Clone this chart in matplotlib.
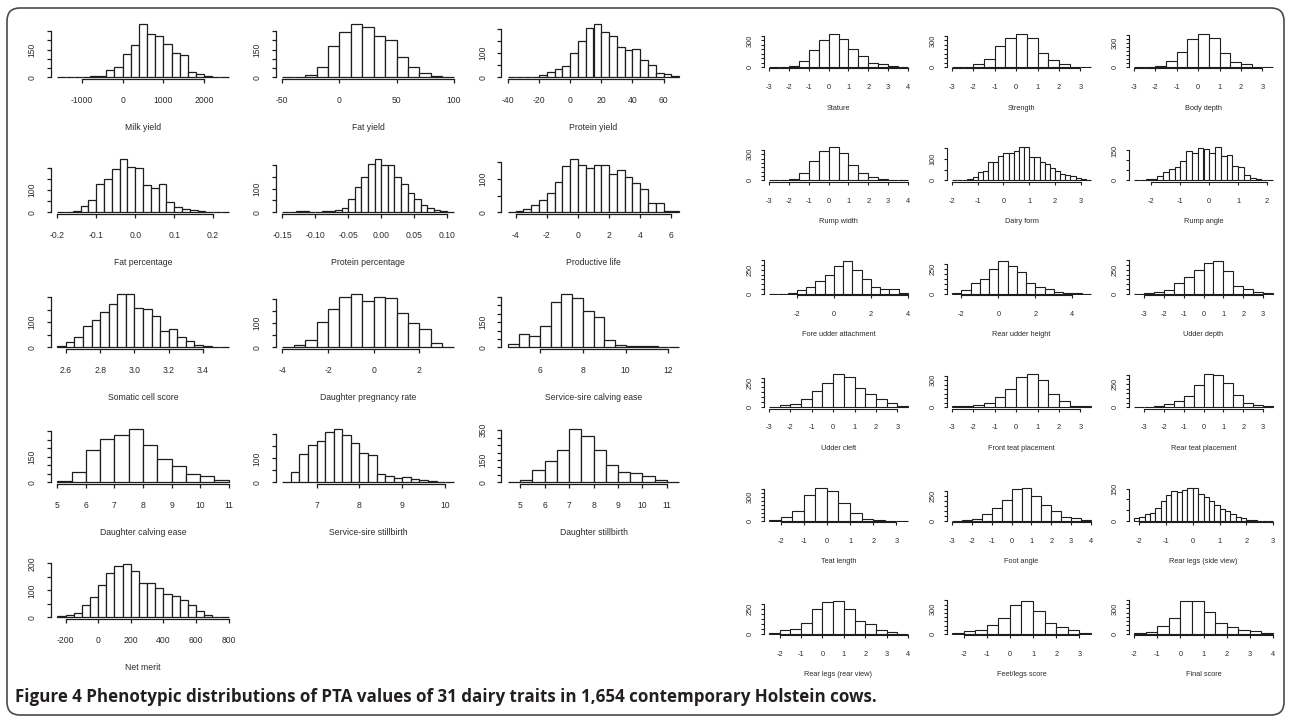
import numpy as np
import matplotlib
matplotlib.use("Agg")
import matplotlib.pyplot as plt
from matplotlib.patches import FancyBboxPatch
from matplotlib.transforms import IdentityTransform

# ---------------- data (bin counts) ----------------
# left block (production / health traits)
milk_yield = [0, 0, 0, 3, 8, 8, 38, 56, 128, 175, 288, 238, 227, 180, 131, 119, 31, 16, 5, 0, 0]
fat_yield = [0, 0, 12, 55, 171, 242, 286, 269, 223, 200, 109, 55, 23, 9, 0]
protein_yield = [0, 0, 0, 3, 11, 21, 33, 46, 100, 150, 204, 219, 186, 172, 125, 114, 117, 71, 50, 18, 12, 4]
fat_percentage = [0, 0, 4, 29, 54, 126, 149, 194, 238, 203, 200, 122, 107, 126, 48, 25, 15, 10, 4, 0, 0, 0]
protein_percentage = [0, 0, 4, 4, 0, 0, 4, 4, 9, 18, 58, 109, 149, 204, 224, 200, 200, 149, 118, 82, 55, 31, 18, 9, 4, 2]
productive_life = [0, 3, 11, 21, 37, 59, 91, 139, 159, 142, 134, 143, 142, 116, 126, 105, 88, 69, 29, 29, 5, 5]
somatic_cell_score = [7, 21, 42, 86, 107, 142, 171, 211, 211, 158, 153, 125, 65, 72, 42, 26, 10, 6, 0, 0]
daughter_pregnancy_rate = [0, 10, 31, 105, 156, 208, 218, 189, 208, 201, 140, 99, 74, 17, 0]
service_sire_calving_ease = [20, 82, 67, 126, 272, 316, 294, 219, 180, 45, 12, 8, 8, 5, 0, 0]
daughter_calving_ease = [6, 60, 189, 252, 278, 312, 219, 139, 95, 50, 40, 14]
service_sire_stillbirth = [3, 42, 117, 155, 173, 211, 221, 197, 162, 122, 115, 35, 28, 17, 21, 14, 10, 4, 3, 3]
daughter_stillbirth = [5, 18, 83, 143, 218, 356, 310, 218, 115, 69, 60, 41, 14, 5]
net_merit = [4, 10, 17, 45, 75, 121, 165, 190, 196, 171, 126, 126, 107, 88, 77, 63, 45, 22, 8, 0, 0]

left_titles = ["Milk yield", "Fat yield", "Protein yield",
               "Fat percentage", "Protein percentage", "Productive life",
               "Somatic cell score", "Daughter pregnancy rate", "Service-sire calving ease",
               "Daughter calving ease", "Service-sire stillbirth", "Daughter stillbirth",
               "Net merit"]
left_counts = [milk_yield, fat_yield, protein_yield, fat_percentage, protein_percentage,
               productive_life, somatic_cell_score, daughter_pregnancy_rate,
               service_sire_calving_ease, daughter_calving_ease, service_sire_stillbirth,
               daughter_stillbirth, net_merit]
left_bin_start = [-1600, -50, -40, -0.20, -0.15, -4.5, 2.55, -4, 4.5, 5, 6.2, 4.5, -250]
left_bin_width = [200, 10, 5, 0.02, 0.01, 0.5, 0.05, 0.5, 0.5, 0.5, 0.2, 0.5, 50]
left_xticks = [[-1000, 0, 1000, 2000], [-50, 0, 50, 100], [-40, -20, 0, 20, 40, 60],
               [-0.2, -0.1, 0.0, 0.1, 0.2], [-0.15, -0.10, -0.05, 0.00, 0.05, 0.10],
               [-4, -2, 0, 2, 4, 6], [2.6, 2.8, 3.0, 3.2, 3.4], [-4, -2, 0, 2],
               [6, 8, 10, 12], [5, 6, 7, 8, 9, 10, 11], [7, 8, 9, 10],
               [5, 6, 7, 8, 9, 10, 11], [-200, 0, 200, 400, 600, 800]]
left_xfmt = ["{:g}", "{:g}", "{:g}", "{:.1f}", "{:.2f}", "{:g}", "{:.1f}", "{:g}",
             "{:g}", "{:g}", "{:g}", "{:g}", "{:g}"]
left_ytop = [250, 250, 200, 200, 200, 150, 200, 200, 300, 300, 200, 350, 200]
left_ylabels = [[0, 150], [0, 150], [0, 100], [0, 100], [0, 100], [0, 100], [0, 100],
                [0, 100], [0, 150], [0, 150], [0, 100], [0, 150, 350], [0, 100, 200]]

# right block (type traits)
stature = [0, 0, 12, 62, 186, 302, 372, 310, 198, 124, 41, 33, 12, 0]
strength = [0, 0, 29, 94, 236, 330, 371, 326, 159, 81, 29, 0, 0]
body_depth = [0, 0, 13, 80, 186, 341, 408, 355, 168, 67, 35, 0, 0]
rump_width = [0, 0, 13, 84, 222, 335, 377, 310, 176, 84, 42, 13, 0, 0]
dairy_form = [0, 0, 3, 8, 17, 37, 42, 83, 87, 113, 125, 125, 137, 153, 153, 107, 107, 87, 75,
              58, 42, 30, 25, 20, 13, 7, 0]
rump_angle = [4, 2, 7, 9, 24, 41, 56, 65, 96, 148, 139, 163, 156, 139, 165, 121, 126, 74, 69,
              28, 13, 6, 2, 4]
fore_udder_attachment = [0, 0, 7, 37, 74, 129, 191, 287, 342, 246, 158, 74, 51, 51, 7]
rear_udder_height = [11, 36, 109, 146, 255, 335, 284, 219, 109, 73, 44, 18, 7, 7, 0]
udder_depth = [0, 4, 15, 37, 111, 178, 248, 326, 344, 233, 85, 52, 15, 7]
udder_cleft = [7, 18, 29, 79, 169, 240, 334, 305, 197, 133, 83, 47, 14]
front_teat_placement = [8, 12, 27, 51, 110, 208, 333, 368, 302, 145, 67, 16, 8]
rear_teat_placement = [0, 4, 11, 38, 68, 122, 240, 354, 346, 262, 133, 49, 19, 8]
teat_length = [9, 45, 127, 322, 421, 376, 227, 95, 23, 9, 0, 0]
foot_angle = [0, 7, 18, 65, 130, 209, 318, 336, 246, 155, 101, 40, 22, 7]
rear_legs_side = [13, 17, 30, 38, 58, 91, 118, 138, 135, 145, 155, 155, 125, 113, 91, 71, 55,
                  43, 30, 17, 10, 5, 2, 0, 0, 0]
rear_legs_rear = [14, 36, 50, 108, 251, 319, 330, 248, 133, 97, 43, 25, 0]
feet_legs_score = [9, 30, 43, 102, 188, 341, 392, 269, 136, 85, 51, 9]
final_score = [17, 29, 93, 185, 387, 387, 253, 126, 80, 42, 38, 17]

right_titles = ["Stature", "Strength", "Body depth",
                "Rump width", "Dairy form", "Rump angle",
                "Fore udder attachment", "Rear udder height", "Udder depth",
                "Udder cleft", "Front teat placement", "Rear teat placement",
                "Teat length", "Foot angle", "Rear legs (side view)",
                "Rear legs (rear view)", "Feet/legs score", "Final score"]
right_counts = [stature, strength, body_depth, rump_width, dairy_form, rump_angle,
                fore_udder_attachment, rear_udder_height, udder_depth, udder_cleft,
                front_teat_placement, rear_teat_placement, teat_length, foot_angle,
                rear_legs_side, rear_legs_rear, feet_legs_score, final_score]
right_bin_start = [-3, -3, -3, -3, -2, -2.6, -3.5, -2.5, -3.5, -3, -3, -3.5,
                   -2.5, -3, -2.2, -2.5, -2.5, -2]
right_bin_width = [0.5, 0.5, 0.5, 0.5, 0.2, 0.2, 0.5, 0.5, 0.5, 0.5, 0.5, 0.5,
                   0.5, 0.5, 0.2, 0.5, 0.5, 0.5]
right_xticks = [[-3, -2, -1, 0, 1, 2, 3, 4], [-3, -2, -1, 0, 1, 2, 3], [-3, -2, -1, 0, 1, 2, 3],
                [-3, -2, -1, 0, 1, 2, 3, 4], [-2, -1, 0, 1, 2, 3], [-2, -1, 0, 1, 2],
                [-2, 0, 2, 4], [-2, 0, 2, 4], [-3, -2, -1, 0, 1, 2, 3],
                [-3, -2, -1, 0, 1, 2, 3], [-3, -2, -1, 0, 1, 2, 3], [-3, -2, -1, 0, 1, 2, 3],
                [-2, -1, 0, 1, 2, 3], [-3, -2, -1, 0, 1, 2, 3, 4], [-2, -1, 0, 1, 2, 3],
                [-2, -1, 0, 1, 2, 3, 4], [-2, -1, 0, 1, 2, 3], [-2, -1, 0, 1, 2, 3, 4]]
right_ytop = [350, 350, 400, 350, 150, 150, 350, 300, 350, 300, 350, 350,
              400, 300, 150, 300, 400, 400]
right_ylabels = [[0, 300], [0, 300], [0, 300], [0, 300], [0, 100], [0, 150],
                 [0, 250], [0, 250], [0, 250], [0, 250], [0, 300], [0, 250],
                 [0, 300], [0, 250], [0, 150], [0, 250], [0, 300], [0, 300]]

caption = ("Figure 4 Phenotypic distributions of PTA values of 31 dairy traits "
           "in 1,654 contemporary Holstein cows.")

# ---------------- layout (pixels) ----------------
FW, FH = 1290, 717
TXT = "#2b2b2b"
LINE = "#1e1e1e"
FONT = "Liberation Sans"

fig = plt.figure(figsize=(FW / 100, FH / 100), dpi=100)
fig.patch.set_facecolor("white")


def px2pt(p):
    return p * 0.72


def hist_panel(left, base, W, H, counts, start, width, xticks, xfmt, ytop, ylabels,
               title, fs, ticklen, xpad, ypad, title_off, lw):
    n = len(counts)
    x0 = start
    x1 = start + n * width
    rng = x1 - x0
    M = max(counts)
    top = base - 1.04 * H
    ax = fig.add_axes([left / FW, 1 - (top + 1.08 * H) / FH, W / FW, 1.08 * H / FH])
    ax.set_facecolor("none")
    edges = [x0 + i * width for i in range(n)]
    ax.bar(edges, counts, width=width, align="edge", facecolor="white",
           edgecolor=LINE, linewidth=lw)
    ax.set_xlim(x0 - 0.04 * rng, x1 + 0.04 * rng)
    ax.set_ylim(-0.04 * M, 1.04 * M)
    for s in ("top", "right"):
        ax.spines[s].set_visible(False)
    for s in ("left", "bottom"):
        ax.spines[s].set_linewidth(lw)
        ax.spines[s].set_color(LINE)
    ax.spines["left"].set_bounds(0, ytop)
    ax.spines["bottom"].set_bounds(xticks[0], xticks[-1])
    ax.set_xticks(xticks)
    ax.set_xticklabels([xfmt.format(v) for v in xticks])
    yt = list(range(0, ytop + 1, 50))
    ax.set_yticks(yt)
    ax.set_yticklabels([str(v) if v in ylabels else "" for v in yt])
    ax.tick_params(axis="both", length=px2pt(ticklen), width=lw, color=LINE,
                   labelsize=fs, labelcolor=TXT)
    ax.tick_params(axis="x", pad=xpad)
    ax.tick_params(axis="y", pad=ypad, labelrotation=90)
    for lab in ax.get_yticklabels():
        lab.set_va("center")
        lab.set_ha("right")
        lab.set_family(FONT)
    for lab in ax.get_xticklabels():
        lab.set_family(FONT)
    fig.text((left + W / 2) / FW, 1 - (base + title_off) / FH, title, ha="center",
             va="center", fontsize=fs, color=TXT, family=FONT)
    return ax


L_COLS = [50.5, 275.5, 501.0]
L_W = 185
L_ROWS = [77.3, 212.3, 347.3, 482.3, 617.3]
L_H = 53
for i in range(len(left_counts)):
    r, c = divmod(i, 3)
    hist_panel(L_COLS[c], L_ROWS[r], L_W, L_H, left_counts[i], left_bin_start[i],
               left_bin_width[i], left_xticks[i], left_xfmt[i], left_ytop[i],
               left_ylabels[i], left_titles[i], fs=6.2, ticklen=4, xpad=8.8, ypad=7.0,
               title_off=50, lw=0.9)

R_COLS = [763.5, 946.5, 1128.5]
R_W = 150
R_ROWS = [67.0 + 113.4 * k for k in range(6)]
R_H = 33
for i in range(len(right_counts)):
    r, c = divmod(i, 3)
    hist_panel(R_COLS[c], R_ROWS[r], R_W, R_H, right_counts[i], right_bin_start[i],
               right_bin_width[i], right_xticks[i], "{:g}", right_ytop[i],
               right_ylabels[i], right_titles[i], fs=5.3, ticklen=3, xpad=9.3, ypad=5.0,
               title_off=41, lw=0.8)

# outer rounded frame
frame = FancyBboxPatch((7, FH - 715), 1277, 707,
                       boxstyle="round,pad=0,rounding_size=13",
                       transform=IdentityTransform(), facecolor="none",
                       edgecolor="#4a4a4a", linewidth=1.2)
fig.add_artist(frame)

# caption, fitted to its width in the reference
cap = fig.text(15 / FW, 1 - 697 / FH, caption, ha="left", va="center",
               fontsize=11, fontweight="bold", color="#231f20", family="Open Sans")
fig.canvas.draw()
bb = cap.get_window_extent(renderer=fig.canvas.get_renderer())
cap.set_fontsize(11 * 863.0 / bb.width)

fig.savefig("out.png", dpi=100)
